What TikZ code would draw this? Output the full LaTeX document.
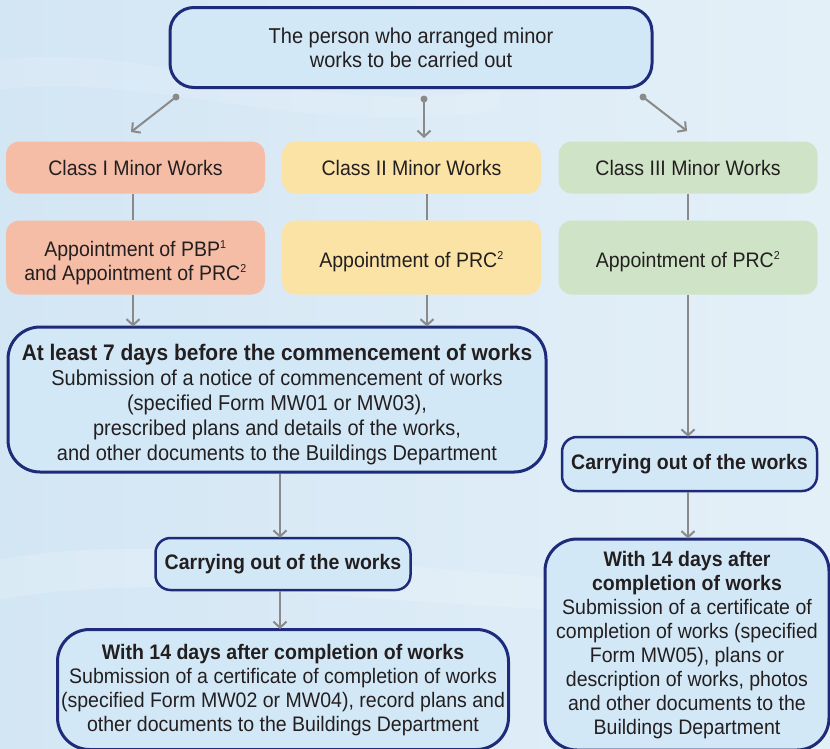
\documentclass[tikz,border=0pt]{standalone}
\usepackage{fontspec}
\setmainfont[FakeStretch=0.93]{Liberation Sans}
\usetikzlibrary{arrows.meta}
\definecolor{bgA}{HTML}{D3E6F4}
\definecolor{bgB}{HTML}{E4F0F8}
\definecolor{boxfill}{HTML}{D3E8F6}
\definecolor{navy}{HTML}{1E2A7A}
\definecolor{conn}{HTML}{8A8A8A}
\definecolor{salmon}{HTML}{F5BDA6}
\definecolor{sand}{HTML}{FBE3A6}
\definecolor{sage}{HTML}{CFE4C6}
\definecolor{ink}{HTML}{231F20}
\newcommand{\supnum}[1]{\textsuperscript{\fontsize{11.5}{11.5}\selectfont #1}}
\newcommand{\lowered}[2]{\raisebox{-#1}[\height][\depth]{\begin{tabular}{@{}c@{}}#2\end{tabular}}}
\tikzset{
  bluebox/.style={draw=navy, line width=3pt, fill=boxfill, align=center, text=ink, inner sep=0pt},
  classbox/.style={rounded corners=13pt, align=center, text=ink, inner sep=0pt, minimum width=259pt},
  conline/.style={draw=conn, line width=2pt},
  conarrow/.style={conline, -{Straight Barb[length=6pt,width=13pt,line width=2pt]}},
  dotstart/.style={circle, fill=conn, inner sep=0pt, minimum size=7pt},
}
\begin{document}
\begin{tikzpicture}[x=1pt,y=-1pt, font=\fontsize{21}{24}\selectfont]
\useasboundingbox (0,0) rectangle (830,748);
\shade[left color=bgA, right color=bgB] (0,0) rectangle (830,748);
\fill[white, opacity=0.18] (0,560) .. controls (200,520) and (500,600) .. (830,580) -- (830,610) .. controls (500,630) and (200,560) .. (0,600) -- cycle;
\fill[white, opacity=0.12] (0,60) .. controls (150,40) and (300,120) .. (500,90) -- (500,110) .. controls (300,140) and (150,70) .. (0,90) -- cycle;

% top box
\node[bluebox, rounded corners=24pt, minimum width=482pt, minimum height=80pt, font=\fontsize{21.5}{24}\selectfont] (top) at (411,47.5)
  {The person who arranged minor\\works to be carried out};

% class row
\node[classbox, fill=salmon, minimum height=52pt] (c1) at (135.5,167.5) {Class I Minor Works};
\node[classbox, fill=sand, minimum height=52pt] (c2) at (411.5,167.5) {Class II Minor Works};
\node[classbox, fill=sage, minimum height=52pt] (c3) at (688,167.5) {Class III Minor Works};

% appointment row
\node[classbox, fill=salmon, minimum height=74pt] (a1) at (135.5,257.5)
  {\lowered{6pt}{Appointment of PBP\supnum{1}\\and Appointment of PRC\supnum{2}}};
\node[classbox, fill=sand, minimum height=74pt] (a2) at (411.5,257.5)
  {\lowered{5pt}{Appointment of PRC\supnum{2}}};
\node[classbox, fill=sage, minimum height=74pt] (a3) at (688,257.5)
  {\lowered{5pt}{Appointment of PRC\supnum{2}}};

% notice box
\node[bluebox, rounded corners=32pt, minimum width=538pt, minimum height=145pt, font=\fontsize{21.5}{24.8}\selectfont] (notice) at (277,399.5)
  {\lowered{6pt}{\fontsize{22.5}{24.8}\selectfont\textbf{At least 7 days before the commencement of works}\\
   Submission of a notice of commencement of works\\
   (specified Form MW01 or MW03),\\
   prescribed plans and details of the works,\\
   and other documents to the Buildings Department}};

% carrying left
\node[bluebox, line width=2.5pt, rounded corners=15pt, minimum width=255pt, minimum height=52pt] (carryL) at (283,564)
  {\textbf{Carrying out of the works}};

% final left
\node[bluebox, rounded corners=32pt, minimum width=451pt, minimum height=120pt] (finalL) at (283,689.5)
  {\lowered{1.5pt}{\textbf{With 14 days after completion of works}\\
   Submission of a certificate of completion of works\\
   (specified Form MW02 or MW04), record plans and\\
   other documents to the Buildings Department}};

% carrying right
\node[bluebox, line width=2.5pt, rounded corners=15pt, minimum width=255pt, minimum height=54pt] (carryR) at (689.5,464)
  {\textbf{Carrying out of the works}};

% final right
\node[bluebox, rounded corners=32pt, minimum width=284pt, minimum height=211pt] (finalR) at (687,644.5)
  {\lowered{1pt}{\textbf{With 14 days after}\\
   \textbf{completion of works}\\
   Submission of a certificate of\\
   completion of works (specified\\
   Form MW05), plans or\\
   description of works, photos\\
   and other documents to the\\
   Buildings Department}};

% start dots below top box
\node[dotstart] (d1) at (176,97) {};
\node[dotstart] (d2) at (424,99) {};
\node[dotstart] (d3) at (643,97) {};
\coordinate (e1) at (131,132);
\coordinate (e2) at (424,138);
\coordinate (e3) at (687,131);

\draw[conarrow] (d1.center) -- (e1);
\draw[conarrow] (d2.center) -- (e2);
\draw[conarrow] (d3.center) -- (e3);

% class to appointment lines
\draw[conline] (c1.south -| 133,0) -- (a1.north -| 133,0);
\draw[conline] (c2.south -| 427,0) -- (a2.north -| 427,0);
\draw[conline] (c3.south -| 688,0) -- (a3.north -| 688,0);

% appointment to notice / carrying
\draw[conarrow] (a1.south -| 133,0) -- ([yshift=-1pt]notice.north -| 133,0);
\draw[conarrow] (a2.south -| 427,0) -- ([yshift=-1pt]notice.north -| 427,0);
\draw[conarrow] (a3.south -| 688,0) -- ([yshift=-1pt]carryR.north -| 688,0);

% notice to carrying, carrying to final
\draw[conarrow] (notice.south -| 280,0) -- ([yshift=-1pt]carryL.north -| 280,0);
\draw[conarrow] (carryL.south -| 280,0) -- ([yshift=-1pt]finalL.north -| 280,0);
\draw[conarrow] (carryR.south -| 688,0) -- ([yshift=-1pt]finalR.north -| 688,0);
\end{tikzpicture}
\end{document}
